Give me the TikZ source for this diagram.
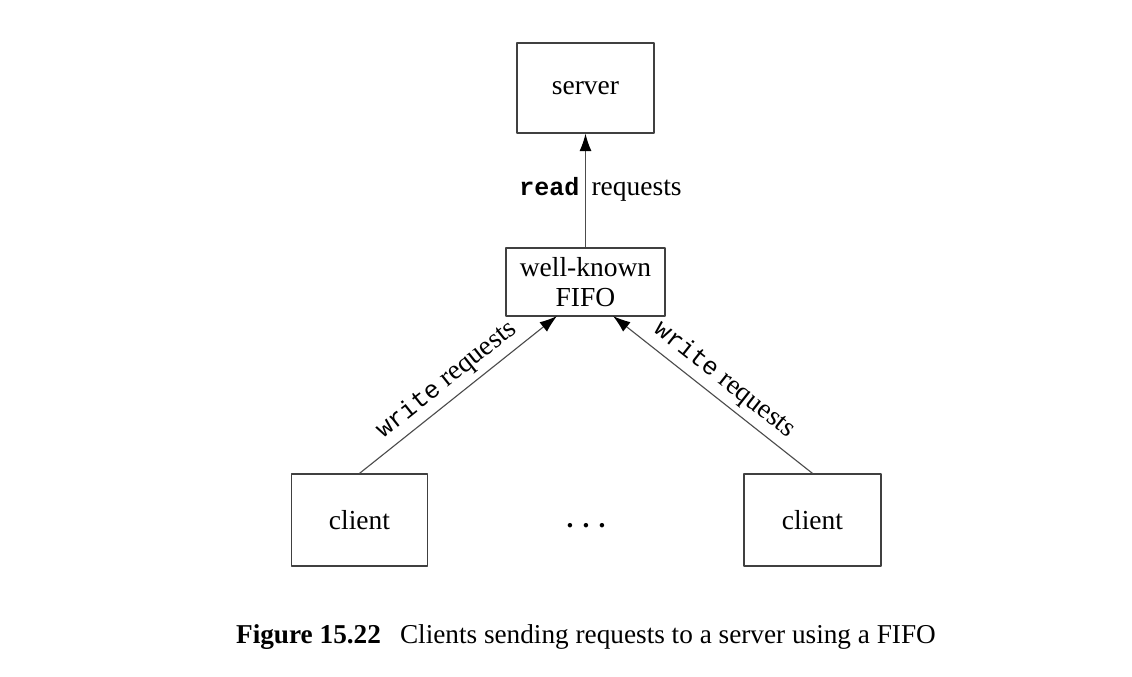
\documentclass[tikz,border=0pt]{standalone}
\usepackage{fontspec}
\setmainfont{Liberation Serif}
\setmonofont{Liberation Mono}
\usetikzlibrary{arrows.meta}
\newcommand\code[1]{{\fontsize{10}{12}\selectfont\ttfamily #1}}
\begin{document}
\begin{tikzpicture}[x=0.4pt,y=-0.4pt,font=\fontsize{11}{12}\selectfont,line join=round,
    >={Latex[length=7pt,width=4.8pt,color=black]},
    box/.style={draw=black!75,line width=0.5pt,inner sep=0pt,align=center},
    conn/.style={->,draw=black!70,line width=0.45pt}]
  \useasboundingbox (0,0) rectangle (1132,676);
  % boxes
  \node[box,minimum width=54.8pt,minimum height=36pt] (server) at (585.5,88) {server};
  \node[box,minimum width=63.6pt,minimum height=27.2pt] (fifo) at (585.5,282) {well-known\\FIFO};
  \node[box,minimum width=54.4pt,minimum height=36.8pt] (lclient) at (359.5,520) {client};
  \node[box,minimum width=54.8pt,minimum height=36.8pt] (rclient) at (812.5,520) {client};
  \node[anchor=base] (dots) at (586,527) {\textbf{.\,\,.\,\,.}};
  \coordinate (fifoL) at (557,316);
  \coordinate (fifoR) at (613,316);
  % connectors
  \draw[conn] (fifo) -- (server);
  \node[anchor=base east,inner sep=0pt] (readlbl) at (580,195) {\code{\textbf{read}}};
  \node[anchor=base west,inner sep=0pt] (reqlbl) at (591,195) {requests};
  \draw[conn] (lclient.north) -- (fifoL)
    node[midway,sloped,above=-1pt] {\code{write} requests};
  \draw[conn] (rclient.north) -- (fifoR)
    node[midway,sloped,above=-1pt] {\code{write} requests};
  % caption
  \node (caption) at (586,637) {\fontsize{10.9}{12}\selectfont\textbf{Figure 15.22}\hspace{0.7em}Clients sending requests to a server using a FIFO};
\end{tikzpicture}
\end{document}
